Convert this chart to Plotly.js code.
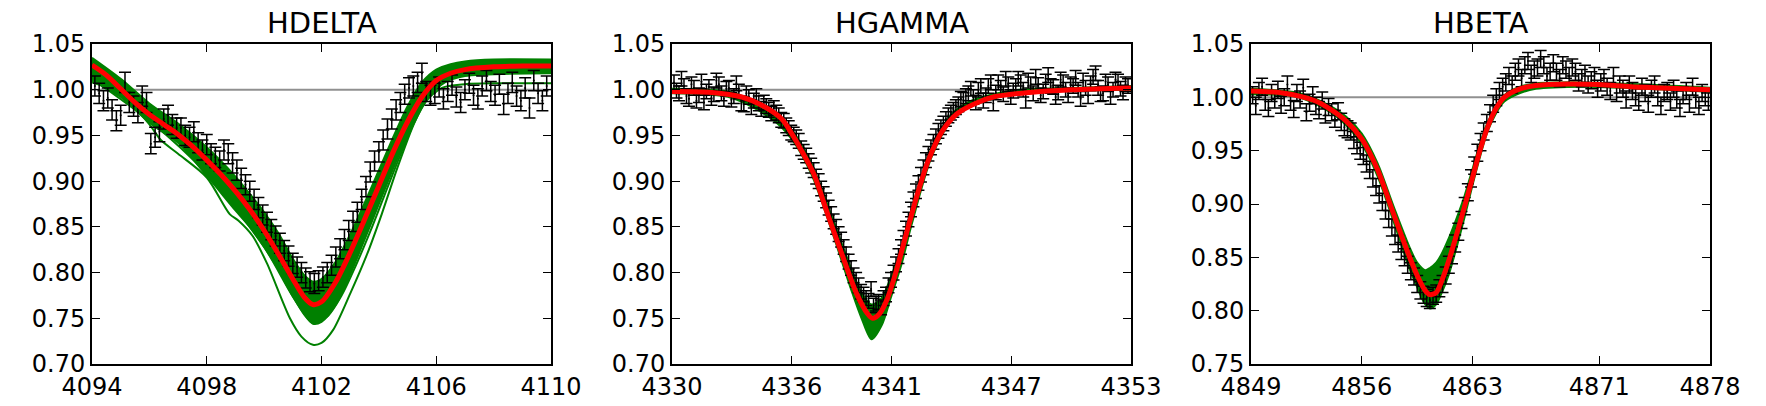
<!DOCTYPE html>
<html>
<head>
<meta charset="utf-8">
<script src="https://cdn.plot.ly/plotly-3.0.1.min.js"></script>
<style>html,body{margin:0;padding:0;background:#fff;}#chart{width:1766px;height:406px;}</style>
</head>
<body>
<div id="chart"></div>
<script>
// ---------------- HDELTA ----------------
const hdeltaWave = [4094.10,4094.25,4094.40,4094.55,4094.70,4094.85,4095.00,4095.15,4095.30,4095.45,
  4095.60,4095.75,4095.90,4096.05,4096.20,4096.35,4096.50,4096.65,4096.80,4096.95,
  4097.10,4097.25,4097.40,4097.55,4097.70,4097.85,4098.00,4098.15,4098.30,4098.45,
  4098.60,4098.75,4098.90,4099.05,4099.20,4099.35,4099.50,4099.65,4099.80,4099.95,
  4100.10,4100.25,4100.40,4100.55,4100.70,4100.85,4101.00,4101.15,4101.30,4101.45,
  4101.60,4101.75,4101.90,4102.05,4102.20,4102.35,4102.50,4102.65,4102.80,4102.95,
  4103.10,4103.25,4103.40,4103.55,4103.70,4103.85,4104.00,4104.15,4104.30,4104.45,
  4104.60,4104.75,4104.90,4105.05,4105.20,4105.35,4105.50,4105.65,4105.80,4105.95,
  4106.10,4106.25,4106.40,4106.55,4106.70,4106.85,4107.00,4107.15,4107.30,4107.45,
  4107.60,4107.75,4107.90,4108.05,4108.20,4108.35,4108.50,4108.65,4108.80,4108.95,
  4109.10,4109.25,4109.40,4109.55,4109.70,4109.85];
const hdeltaFlux = [1.004,0.996,0.988,0.991,0.978,0.966,0.972,1.008,0.986,0.982,
  0.975,0.993,0.986,0.941,0.948,0.954,0.968,0.972,0.962,0.958,
  0.958,0.950,0.948,0.954,0.942,0.934,0.940,0.930,0.926,0.922,
  0.934,0.930,0.920,0.912,0.903,0.896,0.889,0.880,0.871,0.863,
  0.855,0.847,0.840,0.832,0.824,0.818,0.810,0.806,0.800,0.794,
  0.790,0.788,0.791,0.795,0.800,0.808,0.817,0.826,0.836,0.846,
  0.856,0.866,0.880,0.894,0.910,0.922,0.932,0.945,0.957,0.968,
  0.978,0.986,0.995,1.002,1.004,1.008,1.018,0.998,0.994,0.996,
  1.003,0.990,0.998,1.005,0.992,0.986,1.000,1.007,0.994,0.990,
  1.004,1.010,0.998,0.994,1.006,0.984,0.996,1.008,0.993,0.988,
  1.002,0.980,1.010,0.996,0.988,1.004];
const hdeltaErr = 0.011;
const hdeltaFitWave = [4094,4094.5,4095,4095.5,4096,4096.5,4097,4097.5,4098,4098.5,4099,4099.5,4100,4100.5,4101,4101.4,4101.7,4102,4102.5,4103,4103.5,4104,4104.5,4105,4105.5,4106,4106.5,4107,4108,4109,4110];
const hdeltaFit = [1.027,1.016,1.001,0.986,0.973,0.962,0.951,0.938,0.923,0.907,0.889,0.869,0.846,0.820,0.793,0.773,0.765,0.768,0.790,0.822,0.858,0.895,0.932,0.965,0.992,1.010,1.018,1.022,1.025,1.026,1.026];
const hdeltaBandWave = [4094,4095,4096,4097,4098,4099,4099.5,4100,4100.5,4101,4101.4,4101.7,4102,4102.5,4103,4103.5,4104,4104.5,4105,4105.5,4106,4106.5,4107,4108,4110];
const hdeltaBandHigh = [1.035,1.012,0.985,0.963,0.937,0.905,0.886,0.866,0.843,0.815,0.797,0.790,0.793,0.812,0.842,0.876,0.912,0.948,0.982,1.008,1.022,1.028,1.031,1.033,1.033];
const hdeltaBandLow = [1.010,0.992,0.964,0.942,0.906,0.868,0.850,0.828,0.803,0.774,0.754,0.744,0.746,0.765,0.798,0.836,0.875,0.914,0.950,0.982,1.003,1.012,1.016,1.018,1.019];
const hdeltaOut1Wave = [4094,4095,4096,4096.4,4097,4098,4098.8,4099.1,4099.6,4100.1,4100.9,4101.3,4101.7,4102,4102.4,4103,4103.6,4104.1,4104.65,4105.2,4105.6,4106.2,4107,4108,4110];
const hdeltaOut1 = [1.008,0.996,0.962,0.945,0.930,0.904,0.864,0.857,0.840,0.810,0.750,0.730,0.721,0.723,0.737,0.777,0.821,0.864,0.915,0.961,0.986,1.002,1.006,1.007,1.007];
const hdeltaOut2Wave = [4094,4096,4098,4100,4101,4101.7,4102.2,4102.7,4103.2,4103.7,4104.2,4104.7,4105.2,4105.7,4106.3,4107,4110];
const hdeltaOut2 = [1.012,0.966,0.908,0.828,0.774,0.745,0.752,0.775,0.808,0.845,0.885,0.925,0.962,0.990,1.008,1.015,1.018];

// ---------------- HGAMMA ----------------
const hgammaWave = [4330.100,4330.225,4330.350,4330.475,4330.600,4330.725,4330.850,4330.975,4331.100,4331.225,
  4331.350,4331.475,4331.600,4331.725,4331.850,4331.975,4332.100,4332.225,4332.350,4332.475,
  4332.600,4332.725,4332.850,4332.975,4333.100,4333.225,4333.350,4333.475,4333.600,4333.725,
  4333.850,4333.975,4334.100,4334.225,4334.350,4334.475,4334.600,4334.725,4334.850,4334.975,
  4335.100,4335.225,4335.350,4335.475,4335.600,4335.725,4335.850,4335.975,4336.100,4336.225,
  4336.350,4336.475,4336.600,4336.725,4336.850,4336.975,4337.100,4337.225,4337.350,4337.475,
  4337.600,4337.725,4337.850,4337.975,4338.100,4338.225,4338.350,4338.475,4338.600,4338.725,
  4338.850,4338.975,4339.100,4339.225,4339.350,4339.475,4339.600,4339.725,4339.850,4339.975,
  4340.100,4340.225,4340.350,4340.475,4340.600,4340.725,4340.850,4340.975,4341.100,4341.225,
  4341.350,4341.475,4341.600,4341.725,4341.850,4341.975,4342.100,4342.225,4342.350,4342.475,
  4342.600,4342.725,4342.850,4342.975,4343.100,4343.225,4343.350,4343.475,4343.600,4343.725,
  4343.850,4343.975,4344.100,4344.225,4344.350,4344.475,4344.600,4344.725,4344.850,4344.975,
  4345.100,4345.225,4345.350,4345.475,4345.600,4345.725,4345.850,4345.975,4346.100,4346.225,
  4346.350,4346.475,4346.600,4346.725,4346.850,4346.975,4347.100,4347.225,4347.350,4347.475,
  4347.600,4347.725,4347.850,4347.975,4348.100,4348.225,4348.350,4348.475,4348.600,4348.725,
  4348.850,4348.975,4349.100,4349.225,4349.350,4349.475,4349.600,4349.725,4349.850,4349.975,
  4350.100,4350.225,4350.350,4350.475,4350.600,4350.725,4350.850,4350.975,4351.100,4351.225,
  4351.350,4351.475,4351.600,4351.725,4351.850,4351.975,4352.100,4352.225,4352.350,4352.475,
  4352.600,4352.725,4352.850];
const hgammaFlux = [1.008,0.999,0.996,1.012,1.004,0.993,0.990,1.006,1.002,0.988,
  0.994,1.009,0.986,0.998,1.003,0.991,0.995,1.010,1.006,0.996,
  0.990,1.001,1.002,0.989,0.993,1.007,0.998,0.985,0.984,0.996,
  0.992,0.981,0.988,0.993,0.985,0.979,0.986,0.982,0.978,0.974,
  0.980,0.975,0.972,0.967,0.966,0.961,0.958,0.953,0.951,0.948,
  0.944,0.936,0.932,0.928,0.922,0.917,0.912,0.905,0.900,0.892,
  0.886,0.879,0.871,0.864,0.856,0.850,0.842,0.836,0.828,0.820,
  0.812,0.805,0.797,0.792,0.786,0.779,0.776,0.772,0.769,0.782,
  0.764,0.766,0.768,0.762,0.772,0.776,0.786,0.792,0.800,0.809,
  0.818,0.828,0.838,0.848,0.858,0.869,0.880,0.889,0.898,0.907,
  0.915,0.923,0.930,0.937,0.943,0.949,0.955,0.959,0.963,0.968,
  0.972,0.975,0.978,0.981,0.984,0.990,0.989,0.993,0.996,1.001,
  0.992,0.986,1.000,1.004,0.988,0.994,1.004,1.008,0.985,0.997,
  1.008,1.002,0.995,1.012,1.006,0.992,0.999,1.004,1.012,1.008,
  1.000,0.988,1.010,1.006,0.996,1.014,1.005,0.994,0.998,1.009,
  1.016,1.004,1.003,0.992,0.997,1.011,1.008,1.000,0.994,1.006,
  1.004,1.013,1.000,0.990,1.010,1.002,0.993,1.007,1.014,1.018,
  1.002,0.995,0.996,1.009,1.006,0.992,1.000,1.011,1.009,1.001,
  0.997,1.006,1.004];
const hgammaErr = 0.008;
const hgammaFitWave = [4330,4332,4333.5,4334.5,4335.5,4336,4336.5,4337.1,4337.8,4338.5,4339.25,4339.8,4340.05,4340.4,4340.8,4341.2,4341.75,4342.3,4342.85,4343.55,4344.3,4345.2,4346.1,4347.9,4350,4353];
const hgammaFit = [0.998,0.997,0.992,0.983,0.968,0.952,0.933,0.908,0.864,0.821,0.777,0.755,0.750,0.755,0.772,0.799,0.843,0.886,0.923,0.955,0.974,0.985,0.992,0.997,1.000,1.002];
const hgammaBandWave = [4330,4333,4335,4336,4337,4338,4339,4339.5,4340,4340.5,4341,4341.5,4342,4343,4344,4345,4347,4350,4353];
const hgammaBandHigh = [1.001,0.997,0.976,0.956,0.919,0.862,0.803,0.778,0.765,0.772,0.797,0.828,0.868,0.936,0.973,0.988,0.999,1.002,1.004];
const hgammaBandLow = [0.996,0.991,0.968,0.946,0.907,0.846,0.780,0.750,0.727,0.742,0.775,0.809,0.852,0.926,0.966,0.982,0.995,0.999,1.000];

// ---------------- HBETA ----------------
const hbetaWave = [4849.1,4849.3,4849.5,4849.7,4849.9,4850.1,4850.3,4850.5,4850.7,4850.9,
  4851.1,4851.3,4851.5,4851.7,4851.9,4852.1,4852.3,4852.5,4852.7,4852.9,
  4853.1,4853.3,4853.5,4853.7,4853.9,4854.1,4854.3,4854.5,4854.7,4854.9,
  4855.1,4855.3,4855.5,4855.7,4855.9,4856.1,4856.3,4856.5,4856.7,4856.9,
  4857.1,4857.3,4857.5,4857.7,4857.9,4858.1,4858.3,4858.5,4858.7,4858.9,
  4859.1,4859.3,4859.5,4859.7,4859.9,4860.1,4860.3,4860.5,4860.7,4860.9,
  4861.1,4861.3,4861.5,4861.7,4861.9,4862.1,4862.3,4862.5,4862.7,4862.9,
  4863.1,4863.3,4863.5,4863.7,4863.9,4864.1,4864.3,4864.5,4864.7,4864.9,
  4865.1,4865.3,4865.5,4865.7,4865.9,4866.1,4866.3,4866.5,4866.7,4866.9,
  4867.1,4867.3,4867.5,4867.7,4867.9,4868.1,4868.3,4868.5,4868.7,4868.9,
  4869.1,4869.3,4869.5,4869.7,4869.9,4870.1,4870.3,4870.5,4870.7,4870.9,
  4871.1,4871.3,4871.5,4871.7,4871.9,4872.1,4872.3,4872.5,4872.7,4872.9,
  4873.1,4873.3,4873.5,4873.7,4873.9,4874.1,4874.3,4874.5,4874.7,4874.9,
  4875.1,4875.3,4875.5,4875.7,4875.9,4876.1,4876.3,4876.5,4876.7,4876.9,
  4877.1,4877.3,4877.5,4877.7,4877.9];
const hbetaFlux = [1.002,0.992,1.006,1.010,0.996,0.990,1.004,0.998,1.007,0.993,
  1.000,1.012,0.996,0.989,1.004,0.998,1.009,0.986,0.995,1.002,
  0.992,0.988,0.997,0.984,0.991,0.986,0.980,0.987,0.977,0.972,
  0.970,0.968,0.960,0.955,0.950,0.945,0.938,0.932,0.924,0.916,
  0.909,0.902,0.894,0.886,0.878,0.870,0.863,0.856,0.850,0.843,
  0.837,0.832,0.825,0.819,0.815,0.812,0.810,0.814,0.816,0.821,
  0.825,0.833,0.843,0.852,0.863,0.874,0.885,0.898,0.911,0.924,
  0.936,0.948,0.958,0.968,0.976,0.985,0.994,1.000,1.006,1.010,
  1.014,1.020,1.012,1.024,1.028,1.018,1.030,1.034,1.022,1.026,
  1.028,1.036,1.030,1.020,1.024,1.032,1.024,1.018,1.030,1.026,
  1.020,1.028,1.024,1.014,1.018,1.022,1.012,1.016,1.020,1.008,
  1.014,1.018,1.010,1.006,1.020,1.004,1.012,1.008,0.998,1.012,
  1.006,1.000,0.996,1.010,1.004,0.994,1.008,1.012,1.000,0.992,
  1.004,1.006,0.996,1.008,0.998,0.990,1.002,1.006,0.994,1.010,
  0.998,0.992,1.004,1.000,0.996];
const hbetaErr = 0.008;
const hbetaFitWave = [4849,4851,4853,4854,4855,4856,4857,4858,4859,4859.5,4860,4860.3,4860.7,4861,4861.5,4862,4862.5,4863,4863.5,4864,4864.5,4865,4866,4867,4869,4871,4873,4875,4878];
const hbetaFit = [1.006,1.004,0.997,0.989,0.978,0.961,0.932,0.891,0.851,0.833,0.819,0.815,0.817,0.826,0.847,0.872,0.898,0.925,0.952,0.974,0.990,1.000,1.008,1.011,1.0125,1.012,1.010,1.0088,1.007];
const hbetaBandWave = [4849,4852,4854,4855,4856,4857,4858,4859,4859.5,4860,4860.3,4860.7,4861,4861.5,4862,4862.5,4863,4863.5,4864,4865,4866,4867,4870,4874,4878];
const hbetaBandHigh = [1.008,1.004,0.992,0.982,0.966,0.938,0.898,0.860,0.845,0.838,0.840,0.845,0.852,0.868,0.887,0.908,0.933,0.958,0.978,1.002,1.010,1.013,1.014,1.012,1.009];
const hbetaBandLow = [1.003,1.000,0.986,0.974,0.956,0.926,0.884,0.840,0.822,0.806,0.802,0.806,0.815,0.834,0.860,0.888,0.918,0.946,0.970,0.996,1.004,1.008,1.010,1.008,1.005];

// ---------------- axes ----------------
const titles = ["HDELTA", "HGAMMA", "HBETA"];
const xRanges = [[4094, 4110], [4330, 4353], [4849, 4878]];
const xTicks = [[4094, 4098, 4102, 4106, 4110], [4330, 4336, 4341, 4347, 4353], [4849, 4856, 4863, 4871, 4878]];
const yRanges = [[0.70, 1.05], [0.70, 1.05], [0.75, 1.05]];
const yTicks = [[0.70, 0.75, 0.80, 0.85, 0.90, 0.95, 1.00, 1.05], [0.70, 0.75, 0.80, 0.85, 0.90, 0.95, 1.00, 1.05], [0.75, 0.80, 0.85, 0.90, 0.95, 1.00, 1.05]];
const continuum = 1.0;

const W = 1766, H = 406;
const xDomains = [[92 / W, 551 / W], [672 / W, 1131 / W], [1251 / W, 1710 / W]];
const yDomain = [1 - 364 / H, 1 - 44 / H];
const FONT = "DejaVu Sans, Liberation Sans, sans-serif";
const GREEN = "#008000";

const panels = [
  {wave: hdeltaWave, flux: hdeltaFlux, err: hdeltaErr, fitW: hdeltaFitWave, fit: hdeltaFit,
   bandW: hdeltaBandWave, hi: hdeltaBandHigh, lo: hdeltaBandLow,
   extra: [[hdeltaOut1Wave, hdeltaOut1], [hdeltaOut2Wave, hdeltaOut2]]},
  {wave: hgammaWave, flux: hgammaFlux, err: hgammaErr, fitW: hgammaFitWave, fit: hgammaFit,
   bandW: hgammaBandWave, hi: hgammaBandHigh, lo: hgammaBandLow, extra: []},
  {wave: hbetaWave, flux: hbetaFlux, err: hbetaErr, fitW: hbetaFitWave, fit: hbetaFit,
   bandW: hbetaBandWave, hi: hbetaBandHigh, lo: hbetaBandLow, extra: []}
];

const data = [];
const layout = {
  width: W, height: H,
  margin: {l: 0, r: 0, t: 0, b: 0},
  paper_bgcolor: "#fff", plot_bgcolor: "#fff",
  showlegend: false,
  font: {family: FONT, size: 24, color: "#000"},
  annotations: []
};

panels.forEach((p, i) => {
  const xa = i === 0 ? "x" : "x" + (i + 1);
  const ya = i === 0 ? "y" : "y" + (i + 1);
  // continuum line
  data.push({x: xRanges[i], y: [continuum, continuum], xaxis: xa, yaxis: ya, mode: "lines",
    line: {color: "#909090", width: 2}, hoverinfo: "skip"});
  // green model band
  data.push({x: p.bandW, y: p.lo, xaxis: xa, yaxis: ya, mode: "lines",
    line: {color: GREEN, width: 2, shape: "spline", smoothing: 0.8}, hoverinfo: "skip"});
  data.push({x: p.bandW, y: p.hi, xaxis: xa, yaxis: ya, mode: "lines", fill: "tonexty",
    fillcolor: GREEN, line: {color: GREEN, width: 2, shape: "spline", smoothing: 0.8}, hoverinfo: "skip"});
  p.extra.forEach(e => {
    data.push({x: e[0], y: e[1], xaxis: xa, yaxis: ya, mode: "lines",
      line: {color: GREEN, width: 2, shape: "spline", smoothing: 0.8}, hoverinfo: "skip"});
  });
  // observed spectrum with error bars
  data.push({x: p.wave, y: p.flux, xaxis: xa, yaxis: ya, mode: "markers",
    marker: {color: "#000", size: 2},
    error_y: {type: "constant", value: p.err, color: "#000", thickness: 1.5, width: 6}});
  // best fit
  data.push({x: p.fitW, y: p.fit, xaxis: xa, yaxis: ya, mode: "lines",
    line: {color: "#ff0000", width: 5, shape: "spline", smoothing: 0.8}});

  const axCommon = {
    showgrid: false, zeroline: false, showline: true, linecolor: "#000", linewidth: 2,
    mirror: "ticks", ticks: "inside", ticklen: 8, tickwidth: 1, tickcolor: "#000",
    tickfont: {family: FONT, size: 24, color: "#000"}
  };
  layout["xaxis" + (i === 0 ? "" : i + 1)] = Object.assign({}, axCommon, {
    domain: xDomains[i], range: xRanges[i], anchor: ya,
    tickmode: "array", tickvals: xTicks[i], ticktext: xTicks[i].map(String)
  });
  layout["yaxis" + (i === 0 ? "" : i + 1)] = Object.assign({}, axCommon, {
    domain: yDomain, range: yRanges[i], anchor: xa,
    tickmode: "array", tickvals: yTicks[i], ticktext: yTicks[i].map(v => v.toFixed(2))
  });
  layout.annotations.push({
    text: titles[i], xref: "paper", yref: "paper",
    x: (xDomains[i][0] + xDomains[i][1]) / 2, y: 1 - 23 / H,
    xanchor: "center", yanchor: "middle", showarrow: false,
    font: {family: FONT, size: 29, color: "#000"}
  });
});

Plotly.newPlot("chart", data, layout, {staticPlot: true});
</script>
</body>
</html>
